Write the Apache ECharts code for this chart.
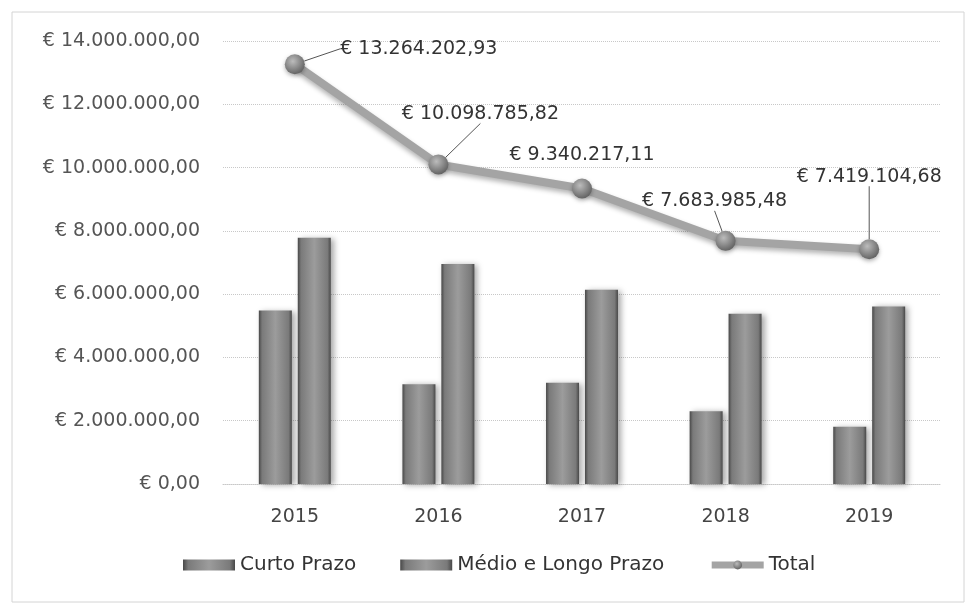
<!DOCTYPE html>
<html>
<head>
<meta charset="utf-8">
<script src="https://cdn.jsdelivr.net/npm/echarts@6/dist/echarts.min.js"></script>
<style>
  html, body { margin: 0; padding: 0; background: #fff; }
  #chart { width: 973px; height: 613px; }
</style>
</head>
<body>
<div id="chart"></div>
<script>
// dados
var anos = ["2015", "2016", "2017", "2018", "2019"];
var curtoPrazo = [5480000, 3150000, 3200000, 2300000, 1810000];
var medioLongoPrazo = [7780000, 6950000, 6140000, 5380000, 5610000];
var total = [13264202.93, 10098785.82, 9340217.11, 7683985.48, 7419104.68];
var yTicks = { min: 0, max: 14000000, interval: 2000000 };

// deslocamento dos rótulos do total (dx, dy) e linha de chamada
var labelShift = [[124, 9], [42, -26], [0, -9], [-11, -15], [0, -48]];
var comLinha = [true, true, false, true, true];

function euro(v) {
  var parts = Number(v).toFixed(2).split(".");
  var inteiro = parts[0].replace(/\B(?=(\d{3})+(?!\d))/g, ".");
  return "€ " + inteiro + "," + parts[1];
}

var fonte = "'DejaVu Sans', sans-serif";

var barColor = new echarts.graphic.LinearGradient(0, 0, 1, 0, [
  { offset: 0, color: "#484848" },
  { offset: 0.1, color: "#7a7a7a" },
  { offset: 0.5, color: "#9c9c9c" },
  { offset: 0.9, color: "#7a7a7a" },
  { offset: 1, color: "#484848" }
]);

var barStyle = {
  color: barColor,
  shadowColor: "rgba(0,0,0,0.35)",
  shadowBlur: 6,
  shadowOffsetX: 3,
  shadowOffsetY: 1
};

var myChart = echarts.init(document.getElementById("chart"));
var option = {
  animation: false,
  backgroundColor: "#ffffff",
  textStyle: { fontFamily: fonte },
  graphic: [
    {
      type: "rect",
      shape: { x: 12, y: 12, width: 952, height: 590 },
      style: { fill: "none", stroke: "#d4d4d4", lineWidth: 1 },
      silent: true
    }
  ],
  grid: { left: 223, right: 32, top: 41, bottom: 129 },
  legend: {
    bottom: 33,
    left: 178,
    itemGap: 44,
    itemWidth: 52,
    itemHeight: 11,
    textStyle: { fontSize: 20, color: "#333", fontFamily: fonte },
    data: [
      { name: "Curto Prazo", icon: "rect" },
      { name: "Médio e Longo Prazo", icon: "rect" },
      { name: "Total", lineStyle: { width: 7, color: "#a4a4a4" } }
    ]
  },
  xAxis: {
    type: "category",
    data: anos,
    axisLine: { show: true, lineStyle: { color: "#c8c8c8", type: "dotted" } },
    axisTick: { show: false },
    axisLabel: { fontSize: 19, color: "#444", margin: 24 }
  },
  yAxis: {
    type: "value",
    min: yTicks.min,
    max: yTicks.max,
    interval: yTicks.interval,
    axisLine: { show: false },
    axisTick: { show: false },
    splitLine: { lineStyle: { color: "#c8c8c8", type: "dotted" } },
    axisLabel: { fontSize: 19, color: "#555", margin: 23, formatter: euro }
  },
  series: [
    {
      name: "Curto Prazo",
      type: "bar",
      data: curtoPrazo,
      barWidth: 33,
      barGap: "18%",
      itemStyle: barStyle
    },
    {
      name: "Médio e Longo Prazo",
      type: "bar",
      data: medioLongoPrazo,
      barWidth: 33,
      barGap: "18%",
      itemStyle: barStyle
    },
    {
      name: "Total",
      type: "line",
      data: total.map(function (v, i) {
        return { value: v, labelLine: { show: comLinha[i] } };
      }),
      symbol: "circle",
      symbolSize: 20,
      z: 5,
      lineStyle: {
        color: "#a4a4a4",
        width: 8,
        shadowColor: "rgba(0,0,0,0.3)",
        shadowBlur: 5,
        shadowOffsetY: 3
      },
      itemStyle: {
        color: new echarts.graphic.RadialGradient(0.4, 0.35, 0.7, [
          { offset: 0, color: "#bcbcbc" },
          { offset: 1, color: "#5e5e5e" }
        ]),
        shadowColor: "rgba(0,0,0,0.3)",
        shadowBlur: 4,
        shadowOffsetY: 2
      },
      label: {
        show: true,
        position: "top",
        fontSize: 19,
        color: "#333",
        formatter: function (p) { return euro(p.value); }
      },
      labelLine: { show: true, lineStyle: { color: "#555", width: 1 } },
      labelLayout: function (p) {
        var s = labelShift[p.dataIndex];
        return { dx: s[0], dy: s[1] };
      }
    }
  ]
};
myChart.setOption(option);
</script>
</body>
</html>
